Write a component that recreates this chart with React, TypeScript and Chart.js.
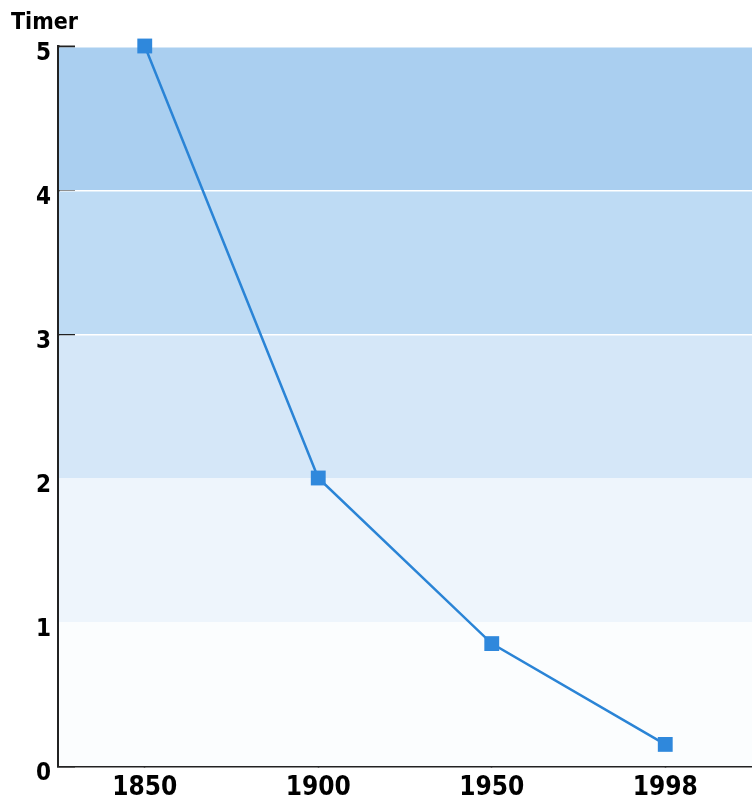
import React, { useEffect, useRef } from "react";
import { Chart, registerables } from "chart.js";

Chart.register(...registerables);

const years = ["1850", "1900", "1950", "1998"];
const timerValues = [5, 2, 0.85, 0.15];
const yTickValues = [0, 1, 2, 3, 4, 5];
const bandEdges = [0, 1, 2, 3, 4, 5];
const bandColors = ["#fbfdfe", "#eef5fc", "#d5e7f8", "#bedbf4", "#aacff0"];
const axisTitle = "Timer";

const FONT = "'Liberation Sans Narrow', 'DejaVu Sans Condensed', 'Liberation Sans', sans-serif";

const bandsPlugin = {
  id: "bands",
  beforeDatasetsDraw(chart: any) {
    const { ctx, chartArea, scales } = chart;
    const y = scales.y;
    ctx.save();
    for (let i = 0; i < bandColors.length; i++) {
      const top = y.getPixelForValue(bandEdges[i + 1]);
      const bottom = y.getPixelForValue(bandEdges[i]);
      ctx.fillStyle = bandColors[i];
      const gapTop = i >= 2 ? 1.5 : 0;
      ctx.fillRect(chartArea.left + 1, top + gapTop, chartArea.right - chartArea.left, bottom - top - gapTop);
    }
    ctx.restore();
  },
};

const titlePlugin = {
  id: "cornerTitle",
  afterDraw(chart: any) {
    const { ctx } = chart;
    ctx.save();
    ctx.fillStyle = "#000";
    ctx.font = `bold 23px ${FONT}`;
    ctx.textAlign = "left";
    ctx.textBaseline = "middle";
    ctx.fillText(axisTitle, 11, 23);
    ctx.restore();
  },
};

export default function App() {
  const ref = useRef<HTMLCanvasElement | null>(null);
  useEffect(() => {
    document.body.style.margin = "0";
    const canvas = ref.current;
    if (!canvas) return;
    const chart = new Chart(canvas, {
      type: "line",
      data: {
        labels: years,
        datasets: [
          {
            data: timerValues,
            borderColor: "#2a84d6",
            backgroundColor: "#2f88dc",
            borderWidth: 2.5,
            pointStyle: "rect",
            pointRadius: 10.5,
            pointHoverRadius: 10.5,
            pointBorderWidth: 0,
            tension: 0,
            clip: false as any,
          },
        ],
      },
      options: {
        animation: false,
        responsive: false,
        maintainAspectRatio: false,
        layout: { autoPadding: false, padding: { left: 0, right: 0, top: 46, bottom: 0 } },
        plugins: {
          legend: { display: false },
          tooltip: { enabled: false },
          title: { display: false },
        },
        scales: {
          x: {
            type: "category",
            offset: true,
            afterFit: (scale: any) => {
              scale.height = 38;
              scale.paddingLeft = 0;
              scale.paddingRight = 0;
            },
            grid: {
              display: true,
              drawOnChartArea: false,
              drawTicks: true,
              tickLength: -20,
              tickWidth: 1.5,
              tickColor: "#222",
              offset: false,
            },
            border: { display: true, color: "#222", width: 2.5 },
            ticks: {
              color: "#000",
              padding: 27,
              font: { family: FONT, size: 26, weight: "bold" },
              maxRotation: 0,
            },
          },
          y: {
            type: "linear",
            min: 0,
            max: 5,
            afterBuildTicks: (scale: any) => {
              scale.ticks = yTickValues.map((v) => ({ value: v }));
            },
            afterFit: (scale: any) => {
              scale.width = 58;
              scale.paddingTop = 0;
              scale.paddingBottom = 0;
            },
            grid: {
              display: true,
              drawOnChartArea: false,
              drawTicks: true,
              tickLength: -17,
              tickWidth: 2,
              tickColor: "#222",
            },
            border: { display: true, color: "#222", width: 2.5 },
            ticks: {
              color: "#000",
              padding: 24,
              labelOffset: 8,
              font: { family: FONT, size: 24, weight: "bold" },
            },
          },
        },
      },
      plugins: [bandsPlugin, titlePlugin],
    });
    return () => chart.destroy();
  }, []);
  return <canvas ref={ref} width={752} height={804} style={{ display: "block" }} />;
}
